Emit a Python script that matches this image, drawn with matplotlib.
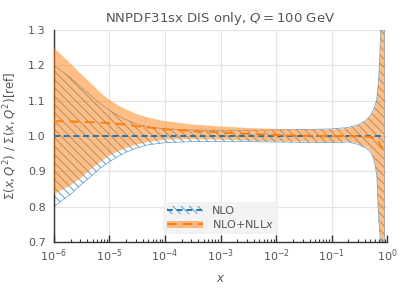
import numpy as np
import matplotlib
matplotlib.use("Agg")
import matplotlib.pyplot as plt
from matplotlib.patches import Patch
from matplotlib.lines import Line2D

# x grid (log) and band edges
x = [1e-6, 2e-6, 3e-6, 5e-6, 7e-6, 1e-5, 1.5e-5, 2e-5, 3e-5, 5e-5, 1e-4, 3e-4,
     1e-3, 3e-3, 1e-2, 3e-2, 0.1, 0.2, 0.3, 0.4, 0.5, 0.55, 0.6, 0.65, 0.7,
     0.73, 0.77, 0.8, 0.85, 0.89]

nlo_cv = [1.0] * len(x)
nlo_hi = [1.20, 1.165, 1.14, 1.11, 1.09, 1.073, 1.056, 1.046, 1.035, 1.026,
          1.02, 1.017, 1.016, 1.016, 1.017, 1.018, 1.020, 1.024, 1.032, 1.043,
          1.058, 1.07, 1.085, 1.105, 1.16, 1.21, 1.32, 1.42, 1.52, 1.62]
nlo_lo = [0.80, 0.835, 0.86, 0.89, 0.91, 0.927, 0.944, 0.954, 0.965, 0.975,
          0.981, 0.984, 0.984, 0.984, 0.983, 0.982, 0.981, 0.983, 0.976, 0.967,
          0.955, 0.942, 0.92, 0.89, 0.77, 0.73, 0.69, 0.65, 0.60, 0.55]

nll_cv = [1.042, 1.041, 1.04, 1.039, 1.038, 1.036, 1.034, 1.032, 1.028, 1.024,
          1.019, 1.014, 1.01, 1.006, 1.003, 1.001, 1.0, 1.0, 0.999, 0.998,
          0.997, 0.996, 0.994, 0.99, 0.985, 0.978, 0.97, 0.965, 0.97, 0.975]
nll_hi = [1.25, 1.205, 1.177, 1.145, 1.122, 1.102, 1.085, 1.075, 1.063, 1.052,
          1.042, 1.033, 1.027, 1.023, 1.02, 1.018, 1.018, 1.022, 1.03, 1.04,
          1.055, 1.065, 1.08, 1.10, 1.15, 1.20, 1.30, 1.40, 1.50, 1.60]
nll_lo = [0.835, 0.86, 0.88, 0.91, 0.928, 0.945, 0.958, 0.966, 0.975, 0.983,
          0.99, 0.991, 0.99, 0.987, 0.985, 0.984, 0.983, 0.985, 0.978, 0.97,
          0.958, 0.946, 0.925, 0.895, 0.78, 0.74, 0.70, 0.66, 0.61, 0.56]

txt = "#555555"
plt.rcParams.update({
    "font.family": "DejaVu Sans",
    "font.size": 8,
    "text.color": txt,
    "axes.labelcolor": txt,
    "xtick.color": "#333333",
    "ytick.color": "#333333",
    "xtick.labelcolor": txt,
    "ytick.labelcolor": txt,
    "hatch.linewidth": 0.7,
    "mathtext.fontset": "dejavusans",
})

fig = plt.figure(figsize=(4.08, 2.89), dpi=100)
ax = fig.add_axes([0.132, 0.163, 0.817, 0.733])

c_nlo = "#1f77b4"
c_nll = "#ff7f0e"

ax.fill_between(x, nlo_lo, nlo_hi, facecolor="none", edgecolor=c_nlo,
                hatch="\\\\\\\\", linewidth=0.5, alpha=0.7, zorder=2)
ax.fill_between(x, nll_lo, nll_hi, facecolor=c_nll, edgecolor="none",
                alpha=0.5, zorder=3)
ax.plot(x, nlo_cv, color=c_nlo, ls=(0, (3, 2)), lw=1.4, zorder=4)
ax.plot(x, nll_cv, color=c_nll, ls=(0, (5, 3)), lw=1.4, zorder=5)

ax.set_xscale("log")
ax.set_xlim(1e-6, 1)
ax.set_ylim(0.7, 1.3)
ax.set_yticks([0.7, 0.8, 0.9, 1.0, 1.1, 1.2, 1.3])
ax.grid(True, color="#e3e3e3", lw=0.9, zorder=0)
ax.set_axisbelow(True)
for s in ["top", "right"]:
    ax.spines[s].set_visible(False)
for s in ["left", "bottom"]:
    ax.spines[s].set_color("#333333")
    ax.spines[s].set_linewidth(1.0)
ax.tick_params(axis="x", which="major", direction="in", length=5, width=1.0, pad=4)
ax.tick_params(axis="x", which="minor", direction="in", length=2.5, width=0.8)
ax.tick_params(axis="y", length=0, pad=6)

ax.set_title(r"NNPDF31sx DIS only, $Q=100$ GeV", fontsize=9.5, color=txt, pad=6)
ax.set_xlabel(r"$x$", fontsize=8.5, labelpad=6)
ax.set_ylabel(r"$\Sigma(x,Q^2)\ /\ \Sigma(x,Q^2)$[ref]", fontsize=8.5, labelpad=6)

h_nlo = (Patch(facecolor="none", edgecolor=c_nlo, hatch="\\\\\\\\", lw=0, alpha=0.7),
         Line2D([], [], color=c_nlo, ls=(0, (3, 2)), lw=1.4))
h_nll = (Patch(facecolor=c_nll, alpha=0.5, lw=0),
         Line2D([], [], color=c_nll, ls=(0, (5, 3)), lw=1.4))
leg = ax.legend([h_nlo, h_nll], ["NLO", r"NLO+NLL$x$"], loc="lower center",
                bbox_to_anchor=(0.5, 0.01), fontsize=8, frameon=True,
                handlelength=3.2, borderpad=0.35, labelspacing=0.25)
leg.get_frame().set_facecolor("#f2f2f2")
leg.get_frame().set_edgecolor("none")
leg.get_frame().set_alpha(0.9)

fig.savefig("out.png", dpi=100)
